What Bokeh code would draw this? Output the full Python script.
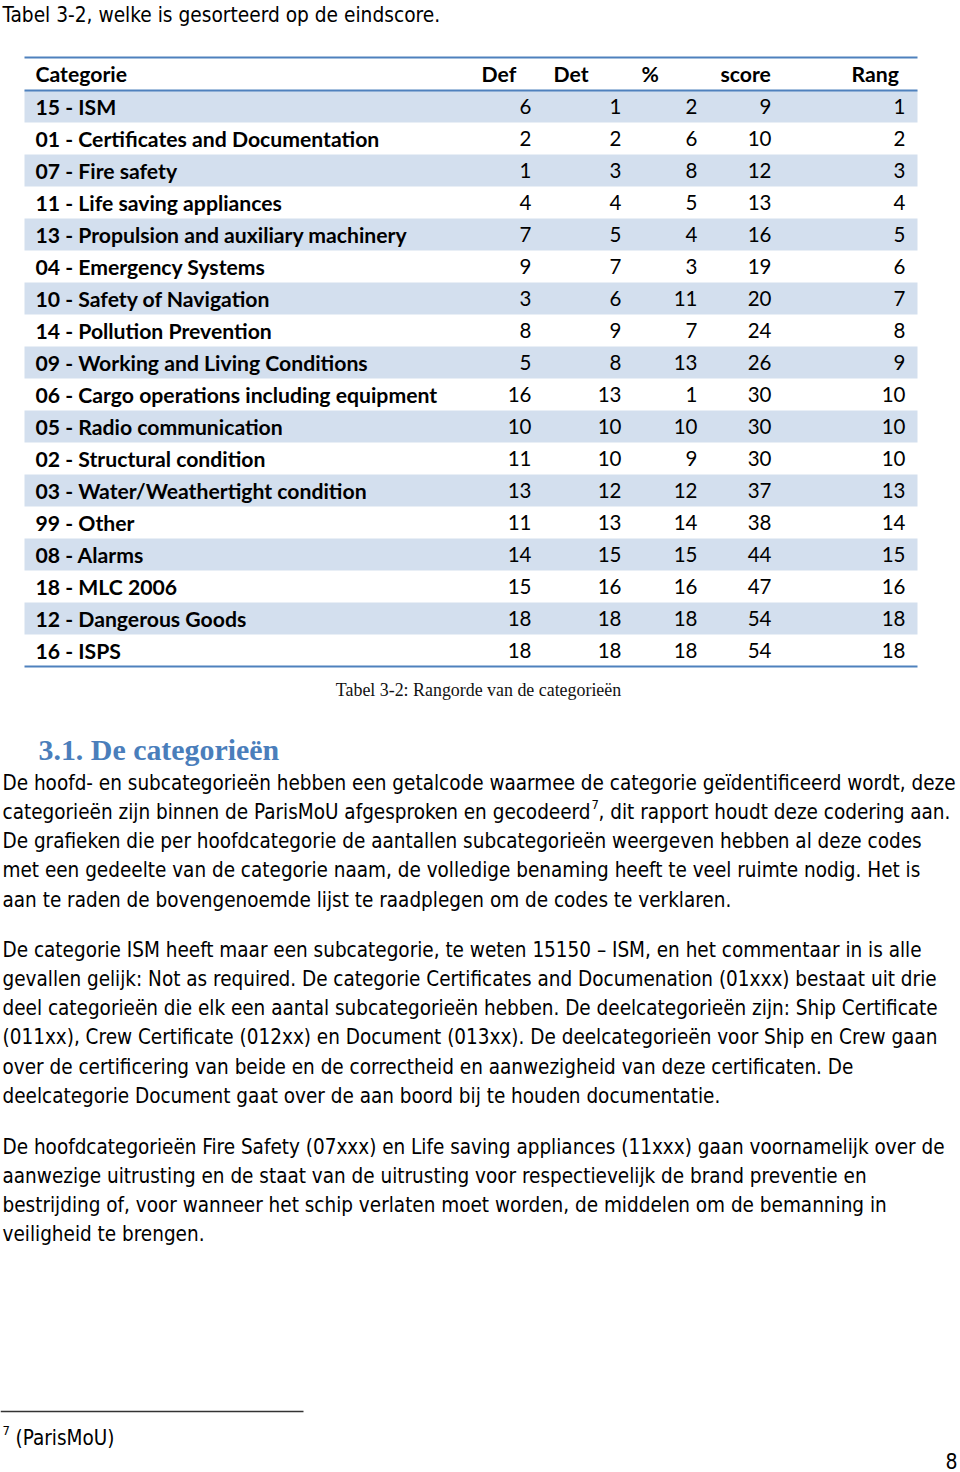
from bokeh.plotting import figure
from bokeh.models import ColumnDataSource, Range1d
from bokeh.core.properties import value
from bokeh.embed import file_html
from bokeh.resources import INLINE

# ---------------- data ----------------
intro_line = "Tabel 3-2, welke is gesorteerd op de eindscore."
column_headers = ["Categorie", "Def", "Det", "%", "score", "Rang"]
categories = [
    "15 - ISM", "01 - Certificates and Documentation", "07 - Fire safety",
    "11 - Life saving appliances", "13 - Propulsion and auxiliary machinery",
    "04 - Emergency Systems", "10 - Safety of Navigation", "14 - Pollution Prevention",
    "09 - Working and Living Conditions", "06 - Cargo operations including equipment",
    "05 - Radio communication", "02 - Structural condition",
    "03 - Water/Weathertight condition", "99 - Other", "08 - Alarms",
    "18 - MLC 2006", "12 - Dangerous Goods", "16 - ISPS",
]
deficiencies = [6, 2, 1, 4, 7, 9, 3, 8, 5, 16, 10, 11, 13, 11, 14, 15, 18, 18]
detentions = [1, 2, 3, 4, 5, 7, 6, 9, 8, 13, 10, 10, 12, 13, 15, 16, 18, 18]
percent = [2, 6, 8, 5, 4, 3, 11, 7, 13, 1, 10, 9, 12, 14, 15, 16, 18, 18]
score = [9, 10, 12, 13, 16, 19, 20, 24, 26, 30, 30, 30, 37, 38, 44, 47, 54, 54]
rank = [1, 2, 3, 4, 5, 6, 7, 8, 9, 10, 10, 10, 13, 14, 15, 16, 18, 18]
caption = "Tabel 3-2: Rangorde van de categorieën"
heading = "3.1. De categorieën"
para1 = [
    "De hoofd- en subcategorieën hebben een getalcode waarmee de categorie geïdentificeerd wordt, deze",
    "categorieën zijn binnen de ParisMoU afgesproken en gecodeerd",
    "De grafieken die per hoofdcategorie de aantallen subcategorieën weergeven hebben al deze codes",
    "met een gedeelte van de categorie naam, de volledige benaming heeft te veel ruimte nodig. Het is",
    "aan te raden de bovengenoemde lijst te raadplegen om de codes te verklaren.",
]
para1_line2_tail = ", dit rapport houdt deze codering aan."
para2 = [
    "De categorie ISM heeft maar een subcategorie, te weten 15150 \u2013 ISM, en het commentaar in is alle",
    "gevallen gelijk: Not as required. De categorie Certificates and Documenation (01xxx) bestaat uit drie",
    "deel categorieën die elk een aantal subcategorieën hebben. De deelcategorieën zijn: Ship Certificate",
    "(011xx), Crew Certificate (012xx) en Document (013xx). De deelcategorieën voor Ship en Crew gaan",
    "over de certificering van beide en de correctheid en aanwezigheid van deze certificaten. De",
    "deelcategorie Document gaat over de aan boord bij te houden documentatie.",
]
para3 = [
    "De hoofdcategorieën Fire Safety (07xxx) en Life saving appliances (11xxx) gaan voornamelijk over de",
    "aanwezige uitrusting en de staat van de uitrusting voor respectievelijk de brand preventie en",
    "bestrijding of, voor wanneer het schip verlaten moet worden, de middelen om de bemanning in",
    "veiligheid te brengen.",
]
footnote_mark = "7"
footnote_text = "(ParisMoU)"
page_number = "8"

# ---------------- layout ----------------
W, H = 960, 1472
BODY_FONT = "DejaVu Sans Condensed"
TABLE_FONT = "Lato"
SERIF = "Liberation Serif"


def px(v):
    return value(f"{v:.2f}px")


p = figure(width=W, height=H, x_range=Range1d(0, W), y_range=Range1d(H, 0),
           output_backend="svg", toolbar_location=None, min_border=0,
           x_axis_location=None, y_axis_location=None)
p.grid.visible = False
p.outline_line_color = None
p.background_fill_color = "white"
p.border_fill_color = "white"


def put(xs, ys, texts, size, font=BODY_FONT, style="normal", align="left",
        color="#000000", baseline="middle"):
    src = ColumnDataSource(dict(x=xs, y=ys, t=texts))
    p.text(x="x", y="y", text="t", source=src, text_font=value(font),
           text_font_size=px(size), text_font_style=style, text_align=align,
           text_baseline=baseline, text_color=color)


BODY_SIZE = 20.5

# intro line
put([2], [14], [intro_line], 20.7)

# table geometry
T_LEFT, T_RIGHT = 24, 917
T_TOP, HEAD_BOTTOM, ROW_H = 57, 90, 32
n = len(categories)
row_tops = [HEAD_BOTTOM + i * ROW_H for i in range(n)]
row_mid = [t + ROW_H / 2 for t in row_tops]
shaded = [i for i in range(n) if i % 2 == 0]
p.quad(left=[T_LEFT] * len(shaded), right=[T_RIGHT] * len(shaded),
       top=[row_tops[i] for i in shaded], bottom=[row_tops[i] + ROW_H for i in shaded],
       fill_color="#D3DFEE", line_color=None)
T_BOTTOM = HEAD_BOTTOM + n * ROW_H
p.segment(x0=[T_LEFT] * 3, x1=[T_RIGHT] * 3, y0=[T_TOP, HEAD_BOTTOM, T_BOTTOM],
          y1=[T_TOP, HEAD_BOTTOM, T_BOTTOM], line_color="#4F81BD", line_width=2)

# header
head_x = [35, 481, 553, 641, 720, 851]
put(head_x, [(T_TOP + HEAD_BOTTOM) / 2] * 6, column_headers, 21.2, TABLE_FONT, "bold")

# category names
put([35] * n, row_mid, categories, 21.2, TABLE_FONT, "bold")

# numbers
num_right = [531, 621, 697, 771, 905]
for col, xr in zip([deficiencies, detentions, percent, score, rank], num_right):
    put([xr] * n, row_mid, [str(v) for v in col], 20.5, TABLE_FONT, align="right")

# caption
put([478], [689], [caption], 17.9, SERIF, align="center", color="#111111")

# heading
put([38], [749], [heading], 29.9, SERIF, "bold", color="#4A7EBB")

# paragraphs
LS = 29.3
y1 = [782 + i * LS for i in range(len(para1))]
put([2] * len(para1), y1, para1, BODY_SIZE)
put([591], [y1[1] - 7], [footnote_mark], 13)
put([598], [y1[1]], [para1_line2_tail], BODY_SIZE)
y2 = [949 + i * LS for i in range(len(para2))]
put([2] * len(para2), y2, para2, BODY_SIZE)
y3 = [1146 + i * LS for i in range(len(para3))]
put([2] * len(para3), y3, para3, BODY_SIZE)

# footnote
p.segment(x0=[0], x1=[303], y0=[1411], y1=[1411], line_color="#333333", line_width=1.3)
put([2], [1430], [footnote_mark], 13)
put([15], [1437], [footnote_text], BODY_SIZE)
put([957], [1460], [page_number], 21, align="right")

open("out.html", "w").write(file_html(p, INLINE))
